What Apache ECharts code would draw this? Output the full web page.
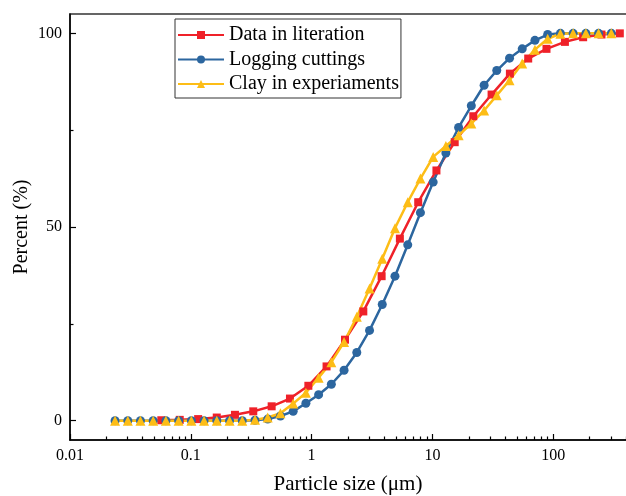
<!DOCTYPE html>
<html>
<head>
<meta charset="utf-8">
<title>Particle size distribution</title>
<script src="https://cdn.jsdelivr.net/npm/echarts@6/dist/echarts.min.js"></script>
<style>
  html, body { margin: 0; padding: 0; background: #fff; }
  #chart { width: 626px; height: 496px; }
</style>
</head>
<body>
<div id="chart"></div>
<script>
// Particle sizes (µm) of the literature data bins
const sizesLiterature = [
  0.057, 0.081, 0.115, 0.164, 0.232, 0.329, 0.467, 0.662, 0.94, 1.33,
  1.89, 2.68, 3.8, 5.38, 7.63, 10.8, 15.3, 21.8, 30.9, 43.8,
  62.1, 88, 125, 177, 251, 356
];
// Cumulative percent, data in literature
const literature = [
  0.1, 0.2, 0.4, 0.8, 1.5, 2.4, 3.7, 5.7, 9.0, 14.0,
  20.9, 28.2, 37.3, 47.0, 56.4, 64.6, 71.9, 78.6, 84.2, 89.6,
  93.5, 96.0, 97.8, 99.0, 99.7, 100
];

// Particle sizes (µm) of the laser analyser bins
const sizesMeasured = [
  0.0236, 0.0301, 0.0383, 0.0488, 0.0622, 0.0793, 0.1011, 0.1288, 0.1642, 0.2093,
  0.2667, 0.340, 0.433, 0.552, 0.704, 0.897, 1.143, 1.457, 1.857, 2.367,
  3.017, 3.845, 4.90, 6.25, 7.96, 10.15, 12.93, 16.48, 21.0, 26.8,
  34.1, 43.5, 55.4, 70.6, 90.0, 114.7, 146.2, 186.4, 237.5, 302.7
];
// Cumulative percent, logging cuttings
const cuttings = [
  0, 0, 0, 0, 0, 0, 0, 0, 0, 0,
  0, 0.1, 0.4, 1.2, 2.4, 4.5, 6.7, 9.4, 13.0, 17.6,
  23.3, 30.0, 37.3, 45.4, 53.7, 61.6, 69.1, 75.7, 81.3, 86.6,
  90.4, 93.6, 96.0, 98.2, 99.7, 100, 100, 100, 100, 100
];
// Cumulative percent, clay used in the experiments
const clay = [
  0, 0, 0, 0, 0, 0, 0, 0, 0, 0,
  0, 0.2, 0.8, 1.9, 4.4, 7.2, 11.1, 15.1, 20.3, 26.8,
  34.1, 41.8, 49.7, 56.4, 62.5, 68.1, 70.9, 73.7, 76.7, 80.1,
  84.0, 87.9, 92.2, 95.8, 98.6, 99.9, 100, 100, 100, 100
];

const seriesNames = ['Data in literation', 'Logging cuttings', 'Clay in experiaments'];

// Axis ticks
const xTickValues = [0.01, 0.1, 1, 10, 100, 1000];
const xTickLabels = ['0.01', '0.1', '1', '10', '100', '1000'];
const yTickValues = [0, 50, 100];
const yMinorValues = [25, 75];

// The size axis is drawn in log10 space
const lg = v => Math.log10(v);
const xMajor = xTickValues.map(lg);
const xMinor = [];
for (let d = 0; d < xTickValues.length - 1; d++) {
  for (let k = 2; k <= 9; k++) xMinor.push(lg(xTickValues[d] * k));
}
const labelOf = {};
xMajor.forEach((v, i) => { labelOf[v.toFixed(3)] = xTickLabels[i]; });

const pairs = (xs, ys) => xs.map((x, i) => [lg(x), ys[i]]);

const FONT = '"Liberation Serif", "Times New Roman", serif';
const axisLine = { show: true, onZero: false, lineStyle: { color: '#000', width: 1.5 } };
const tickLine = { color: '#000', width: 1.2 };

const chart = echarts.init(document.getElementById('chart'), null, { renderer: 'canvas' });
chart.setOption({
  animation: false,
  backgroundColor: '#fff',
  grid: {
    left: 70, right: -48, top: 14, bottom: 56,
    outerBoundsMode: 'none', containLabel: false,
    show: true, borderColor: '#333', borderWidth: 1.5, backgroundColor: 'transparent'
  },
  legend: {
    orient: 'vertical',
    left: 175, top: 19,
    padding: [6, 2, 4, 2],
    itemWidth: 46, itemHeight: 10, itemGap: 4.5,
    borderColor: '#333', borderWidth: 1,
    backgroundColor: '#fff',
    textStyle: { fontFamily: FONT, fontSize: 20, color: '#000' },
    data: seriesNames
  },
  xAxis: [
    {
      type: 'value', min: lg(0.01), max: lg(1000),
      axisLine: axisLine,
      axisTick: { show: true, inside: true, length: 6, customValues: xMajor, lineStyle: tickLine },
      axisLabel: {
        customValues: xMajor, margin: 8,
        fontFamily: FONT, fontSize: 16, color: '#000',
        formatter: v => labelOf[Number(v).toFixed(3)] || ''
      },
      splitLine: { show: false },
      name: 'Particle size (\u03bcm)',
      nameLocation: 'middle', nameGap: 34, nameMoveOverlap: false,
      nameTextStyle: { fontFamily: FONT, fontSize: 21, color: '#000', padding: [0, 48, 0, 0] }
    },
    {
      type: 'value', min: lg(0.01), max: lg(1000), position: 'bottom',
      axisLine: { show: false, onZero: false },
      axisTick: { show: true, inside: true, length: 3.5, customValues: xMinor, lineStyle: tickLine },
      axisLabel: { show: false },
      splitLine: { show: false }
    }
  ],
  yAxis: [
    {
      type: 'value', min: -5, max: 105,
      axisLine: axisLine,
      axisTick: { show: true, inside: true, length: 6, customValues: yTickValues, lineStyle: tickLine },
      axisLabel: { customValues: yTickValues, margin: 8, fontFamily: FONT, fontSize: 16, color: '#000' },
      splitLine: { show: false },
      name: 'Percent (%)',
      nameLocation: 'middle', nameGap: 38, nameMoveOverlap: false,
      nameTextStyle: { fontFamily: FONT, fontSize: 20, color: '#000' }
    },
    {
      type: 'value', min: -5, max: 105, position: 'left',
      axisLine: { show: false, onZero: false },
      axisTick: { show: true, inside: true, length: 3.5, customValues: yMinorValues, lineStyle: tickLine },
      axisLabel: { show: false },
      splitLine: { show: false }
    }
  ],
  series: [
    {
      name: seriesNames[0], type: 'line', xAxisIndex: 0, yAxisIndex: 0,
      data: pairs(sizesLiterature, literature),
      symbol: 'rect', symbolSize: 8,
      lineStyle: { color: '#ef2129', width: 2.5 },
      itemStyle: { color: '#ef2129' }
    },
    {
      name: seriesNames[1], type: 'line', xAxisIndex: 0, yAxisIndex: 0,
      data: pairs(sizesMeasured, cuttings),
      symbol: 'circle', symbolSize: 9,
      lineStyle: { color: '#2c669f', width: 2.5 },
      itemStyle: { color: '#2c669f' }
    },
    {
      name: seriesNames[2], type: 'line', xAxisIndex: 0, yAxisIndex: 0,
      data: pairs(sizesMeasured, clay),
      symbol: 'triangle', symbolSize: 10,
      lineStyle: { color: '#fdbd16', width: 2.5 },
      itemStyle: { color: '#fdbd16' }
    }
  ]
});
</script>
</body>
</html>
